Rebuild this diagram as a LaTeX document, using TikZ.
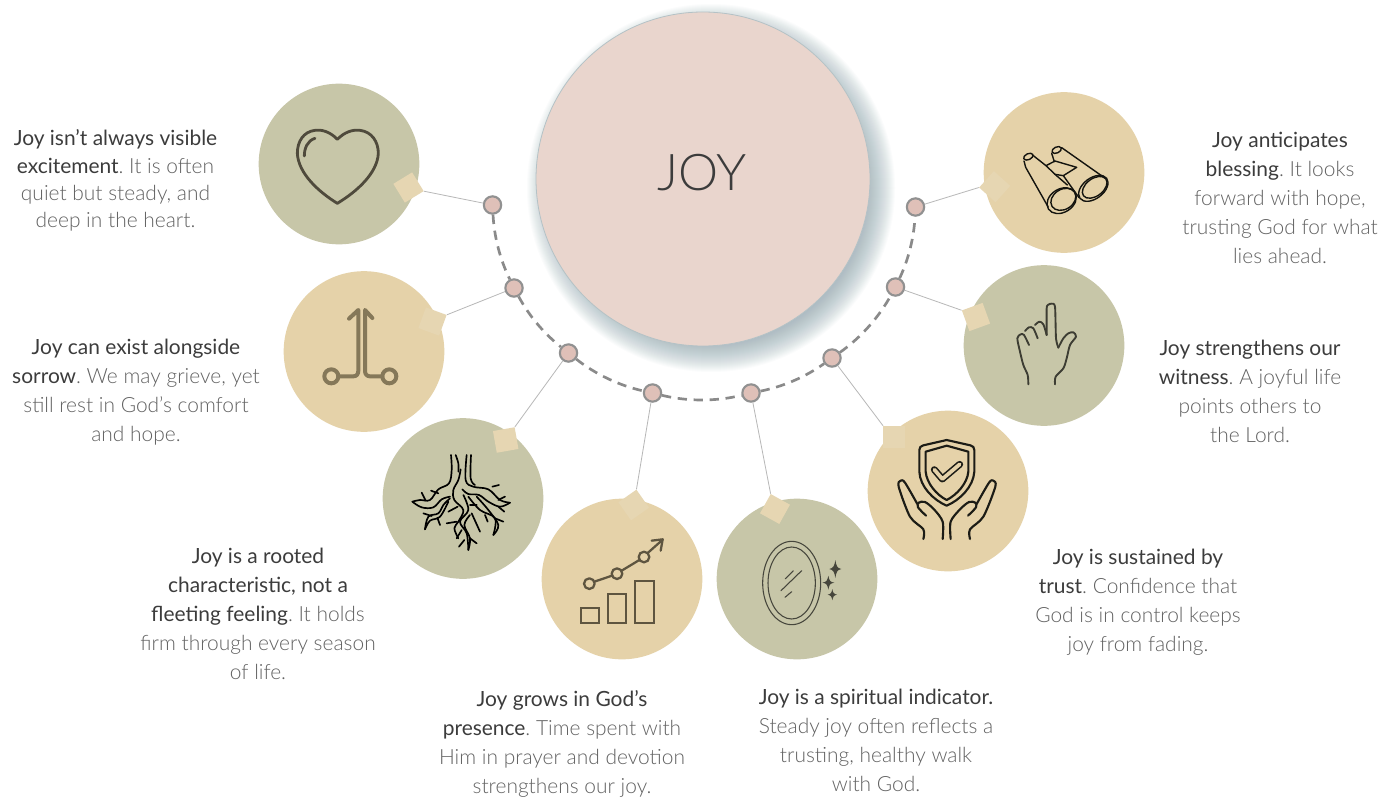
\documentclass[tikz,border=0pt]{standalone}
\usepackage{fontspec}
\setmainfont{Lato}[UprightFont=* Light]
\newfontfamily\leadfont{Lato}
\definecolor{olive}{HTML}{C7C6A8}
\definecolor{tan}{HTML}{E5D2A9}
\definecolor{tag}{HTML}{E6D6B2}
\definecolor{pinkbig}{HTML}{E9D5CD}
\definecolor{dotfill}{HTML}{DFC0B8}
\definecolor{leadc}{HTML}{3C3C3C}
\definecolor{restc}{HTML}{626262}
\definecolor{ringc}{HTML}{B4C2C6}
\newcommand{\lead}[1]{{\leadfont\textcolor{leadc}{#1}}}
\tikzset{
  disc/.style={circle,minimum size=120.5pt,inner sep=0pt,fill=#1},
  tagbox/.style={rectangle,minimum size=16.5pt,inner sep=0pt,fill=tag},
  dot/.style={circle,minimum size=13pt,inner sep=0pt,fill=dotfill,draw=black!43,line width=1.6pt},
  link/.style={draw=black!28,line width=.6pt},
  arcdash/.style={draw=black!46,line width=2pt,dash pattern=on 7pt off 5pt,looseness=.85},
  txt/.style={align=center,text=restc,font=\fontsize{15.7}{21.75}\selectfont\frenchspacing},
  zoomed/.style={x=.25pt,y=-.25pt,line cap=round,line join=round},
}
\begin{document}
\begin{tikzpicture}[x=.75pt,y=-.75pt]
\useasboundingbox (0,0) rectangle (1395,799);
\fill[white] (0,0) rectangle (1395,799);
% shadow
\foreach \r in {156,157,...,184}{
  \fill[color={rgb,255:red,135;green,160;blue,170},opacity=.032] (711,188) circle[radius=\r];
}
\node[circle,minimum size=250.5pt,inner sep=0pt,fill=pinkbig,draw=ringc,line width=.6pt] (big) at (703,179) {};
\node[text=leadc,font=\fontsize{38}{40}\selectfont] (title) at (702,173) {JOY};
% discs
\node[disc=olive] (c1) at (339,164) {};
\node[disc=tan]   (c2) at (364,351.5) {};
\node[disc=olive] (c3) at (463,498.5) {};
\node[disc=tan]   (c4) at (622,579) {};
\node[disc=olive] (c5) at (797,579) {};
\node[disc=tan]   (c6) at (948,491) {};
\node[disc=olive] (c7) at (1044,345.5) {};
\node[disc=tan]   (c8) at (1064,172.5) {};
% tags
\node[tagbox,rotate=31.5] (t1) at (408.5,187.5) {};
\node[tagbox,rotate=-20]  (t2) at (432.5,321.5) {};
\node[tagbox,rotate=10]   (t3) at (505.7,440) {};
\node[tagbox,rotate=35]   (t4) at (633.7,505) {};
\node[tagbox,rotate=-29]  (t5) at (775,509) {};
\node[tagbox,rotate=0]    (t6) at (894.3,437) {};
\node[tagbox,rotate=20]   (t7) at (976,317) {};
\node[tagbox,rotate=-42]  (t8) at (994.7,186.7) {};
% dots
\node[dot] (d1) at (492.5,205) {};
\node[dot] (d2) at (514,288) {};
\node[dot] (d3) at (568.5,353) {};
\node[dot] (d4) at (652.5,393) {};
\node[dot] (d5) at (751,393) {};
\node[dot] (d6) at (832,358) {};
\node[dot] (d7) at (895.5,287) {};
\node[dot] (d8) at (915.5,207) {};
% dashed arc
\draw[arcdash] (d1) to[bend right=11.5] (d2);
\draw[arcdash] (d2) to[bend right=11.5] (d3);
\draw[arcdash] (d3) to[bend right=12.8] (d4);
\draw[arcdash] (d4) to[bend right=13.7] (d5);
\draw[arcdash] (d5) to[bend right=12.1] (d6);
\draw[arcdash] (d6) to[bend right=12.9] (d7);
\draw[arcdash] (d7) to[bend right=11.1] (d8);
% links
\draw[link] (d1) -- (t1.south east);
\draw[link] (d2) -- (t2.north east);
\draw[link] (d3) -- (t3.north east);
\draw[link] (d4) -- (t4.north east);
\draw[link] (d5) -- (t5.north west);
\draw[link] (d6) -- (t6.north west);
\draw[link] (d7) -- (t7.north west);
\draw[link] (d8) -- (t8.south west);
% heart
\begin{scope}[shift={(250,80)},zoomed,color={rgb,255:red,79;green,74;blue,60},line width=2.1pt]
\draw (262,178) .. controls (240,155) and (215,148) .. (195,151) .. controls (160,155) and (142,185) .. (142,220) .. controls (145,280) and (205,335) .. (262,370) .. controls (320,335) and (382,280) .. (385,220) .. controls (385,185) and (365,155) .. (330,151) .. controls (305,148) and (282,158) .. (262,178) -- cycle;
\draw (163,228) .. controls (163,205) and (172,182) .. (195,175);
\end{scope}
% double arrow
\begin{scope}[shift={(250,80)},zoomed,color={rgb,255:red,133;green,120;blue,89},line width=3pt]
\draw (244,889) circle[radius=21];
\draw (418,889) circle[radius=21];
\draw (265,889) -- (310,889) .. controls (320,889) and (325,882) .. (325,872) -- (325,690) -- (297,716);
\draw (397,889) -- (360,889) .. controls (350,889) and (345,882) .. (345,872) -- (345,690) -- (367,714);
\end{scope}
% roots
\begin{scope}[shift={(405,450)},zoomed,black,line width=1.25pt]
\draw plot[smooth,tension=.6] coordinates {(138,15) (140,60) (132,100) (100,118) (75,150) (45,150) (22,155)};
\draw plot[smooth,tension=.6] coordinates {(22,155) (50,172) (85,172) (110,148) (135,140)};
\draw plot[smooth,tension=.6] coordinates {(152,15) (160,40) (160,65)};
\draw plot[smooth,tension=.6] coordinates {(167,58) (160,90) (145,120) (148,150) (175,180) (160,215) (148,235) (160,265)};
\draw plot[smooth,tension=.6] coordinates {(185,15) (182,90) (205,110) (250,118) (285,150) (315,158)};
\draw plot[smooth,tension=.6] coordinates {(315,158) (285,170) (250,155) (222,135) (190,132) (172,118)};
\draw plot[smooth,tension=.6] coordinates {(198,15) (197,85) (210,105)};
\draw plot[smooth,tension=.6] coordinates {(135,145) (115,165) (100,190) (70,200) (60,238)};
\draw plot[smooth,tension=.6] coordinates {(60,238) (75,212) (105,200) (130,155)};
\draw plot[smooth,tension=.6] coordinates {(190,140) (225,180) (270,205) (265,255)};
\draw plot[smooth,tension=.6] coordinates {(265,255) (280,225) (250,180) (215,140)};
\draw plot[smooth,tension=.6] coordinates {(175,135) (190,180) (165,215) (185,250) (190,300)};
\draw plot[smooth,tension=.6] coordinates {(190,300) (195,265) (178,225) (195,195)};
\draw (155,265) -- (170,240);
\draw (50,128) -- (62,152) (78,122) -- (100,130) (55,190) -- (80,198) (97,203) -- (105,225);
\draw (262,110) -- (282,105) (280,150) -- (300,140) (280,170) -- (298,185) (240,195) -- (248,215) (270,205) -- (295,215);
\draw (130,185) -- (158,170) (125,220) -- (155,215) (195,165) -- (215,165) (200,190) -- (225,245) (195,265) -- (215,280) (178,270) -- (162,290);
\end{scope}
% chart
\begin{scope}[shift={(380,340)},zoomed,color={rgb,255:red,94;green,85;blue,64},line width=1.7pt]
\draw[line join=miter] (602,805) rectangle (657,850);
\draw[line join=miter] (683,762) rectangle (739,850);
\draw[line join=miter] (765,722) rectangle (821,850);
\draw (628,731) circle[radius=16];
\draw (711,701) circle[radius=16];
\draw (792,651) circle[radius=16];
\draw (643,725) -- (696,707);
\draw (725,692) -- (778,660);
\draw (803,639) -- (848,599);
\draw (815,602) -- (848,598) -- (842,632);
\end{scope}
% mirror
\begin{scope}[shift={(710,340)},zoomed,color={rgb,255:red,70;green,70;blue,60},line width=.8pt]
\draw (245,729) ellipse[x radius=87,y radius=125];
\draw (245,729) ellipse[x radius=71,y radius=108];
\draw (226,716) -- (250,692) (213,752) -- (275,692) (225,772) -- (245,755);
\fill (376,660) .. controls (379,678) and (381,684) .. (394,687) .. controls (381,690) and (379,696) .. (376,714) .. controls (373,696) and (371,690) .. (358,687) .. controls (371,684) and (373,678) .. (376,660) -- cycle;
\fill (355,707) .. controls (358,722) and (360,726) .. (373,728) .. controls (360,730) and (358,734) .. (355,749) .. controls (352,734) and (350,730) .. (337,728) .. controls (350,726) and (352,722) .. (355,707) -- cycle;
\fill (367,747) .. controls (369,758) and (371,762) .. (381,764) .. controls (371,766) and (369,770) .. (367,781) .. controls (365,770) and (363,766) .. (353,764) .. controls (363,762) and (365,758) .. (367,747) -- cycle;
\end{scope}
% shield and hands
\begin{scope}[shift={(710,340)},zoomed,color={rgb,255:red,28;green,28;blue,22},line width=1.6pt]
\draw (710,300) -- (640,316) .. controls (632,318) and (628,322) .. (628,330) -- (628,395) .. controls (630,440) and (670,480) .. (710,497) .. controls (750,480) and (790,440) .. (793,395) -- (793,330) .. controls (793,322) and (789,318) .. (781,316) -- cycle;
\draw (710,317) -- (647,335) -- (647,395) .. controls (650,430) and (680,465) .. (710,480) .. controls (740,465) and (772,430) .. (775,395) -- (775,335) -- cycle;
\draw[line width=5.2pt] (673,389) -- (697,417) -- (749,373);
\draw[color=tan,line width=2.8pt] (673,389) -- (697,417) -- (749,373);
\draw plot[smooth,tension=.5] coordinates {(640,597) (640,568) (600,530) (566,440) (572,422) (585,428) (622,492)};
\draw plot[smooth,tension=.5] coordinates {(648,527) (624,502) (626,488) (645,486) (672,508) (698,545) (698,597)};
\draw plot[smooth,tension=.5] coordinates {(780,597) (780,568) (820,530) (856,440) (850,422) (837,428) (800,492)};
\draw plot[smooth,tension=.5] coordinates {(774,527) (798,502) (796,488) (777,486) (750,508) (722,545) (722,597)};
\end{scope}
% pointing hand
\begin{scope}[shift={(1005,295)},zoomed,color={rgb,255:red,61;green,61;blue,51},line width=1.4pt]
\draw plot[smooth,tension=.5] coordinates {(70,268) (68,240) (55,210) (45,170) (37,130) (47,118) (57,120) (72,150)};
\draw plot[smooth,tension=.5] coordinates {(60,108) (72,97) (85,100) (98,130)};
\draw plot[smooth,tension=.5] coordinates {(90,90) (103,80) (115,88) (125,120)};
\draw plot[smooth,tension=.4] coordinates {(125,120) (125,40) (130,29) (140,26) (150,35) (153,130) (160,158)};
\draw plot[smooth,tension=.5] coordinates {(160,158) (175,130) (190,115) (205,112) (213,125) (195,150) (185,190) (175,220) (152,245) (150,268)};
\end{scope}
% binoculars
\begin{scope}[shift={(1010,135)},zoomed,color={rgb,255:red,20;green,20;blue,15},line width=1.05pt]
\draw[rotate around={32:(155,197)}] (155,197) ellipse[x radius=47,y radius=35];
\draw[rotate around={32:(160,193)}] (160,193) ellipse[x radius=40,y radius=30];
\draw[rotate around={37:(250,160)}] (250,160) ellipse[x radius=50,y radius=31];
\draw[rotate around={37:(254,157)}] (254,157) ellipse[x radius=42,y radius=26];
\draw[rotate around={25:(55,65)}] (55,65) ellipse[x radius=15,y radius=9];
\draw[rotate around={25:(140,45)}] (140,45) ellipse[x radius=15,y radius=9];
\draw (42,78) -- (47,97) -- (114,215);
\draw (70,62) -- (108,92);
\draw (135,118) -- (172,150);
\draw (125,55) -- (133,80);
\draw (155,38) -- (283,128);
\draw (160,122) -- (207,188);
\draw (108,92) -- (135,78) -- (200,97) -- (160,122) -- (135,118) -- cycle;
\end{scope}
% texts
\node[txt,font=\fontsize{15.7}{20.4}\selectfont\frenchspacing] (x1) at (115.5,180.5) {\lead{Joy isn’t always visible}\\\lead{excitement}. It is often\\quiet but steady, and\\deep in the heart.};
\node[txt] (x2) at (136,392) {\lead{Joy can exist alongside}\\\lead{sorrow}. We may grieve, yet\\still rest in God’s comfort\\and hope.};
\node[txt] (x3) at (258,614) {\lead{Joy is a rooted}\\\lead{characteristic, not a}\\\lead{fleeting feeling}. It holds\\firm through every season\\of life.};
\node[txt] (x4) at (562,743.5) {\lead{Joy grows in God’s}\\\lead{presence}. Time spent with\\Him in prayer and devotion\\strengthens our joy.};
\node[txt] (x5) at (876,740) {\lead{Joy is a spiritual indicator.}\\Steady joy often reflects a\\trusting, healthy walk\\with God.};
\node[txt] (x6) at (1138,602) {\lead{Joy is sustained by}\\\lead{trust}. Confidence that\\God is in control keeps\\joy from fading.};
\node[txt] (x7) at (1250,391) {\lead{Joy strengthens our}\\\lead{witness}. A joyful life\\points others to\\the Lord.};
\node[txt] (x8) at (1280,198) {\lead{Joy anticipates}\\\lead{blessing}. It looks\\forward with hope,\\trusting God for what\\lies ahead.};
\end{tikzpicture}
\end{document}
